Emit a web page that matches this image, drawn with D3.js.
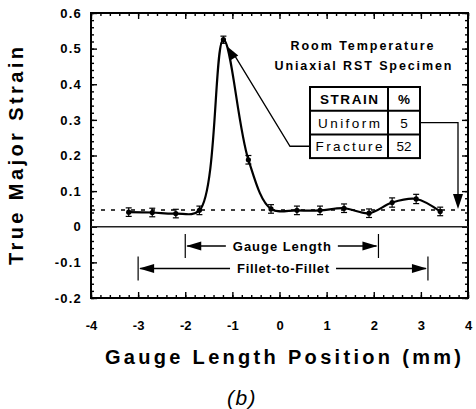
<!DOCTYPE html>
<html>
<head>
<meta charset="utf-8">
<script src="https://cdn.jsdelivr.net/npm/d3@7"></script>
<style>
  body { margin: 0; background: #fff; }
  svg { display: block; }
  text { font-family: Arial, "Liberation Sans", sans-serif; fill: #000; }
</style>
</head>
<body>
<svg width="476" height="409"></svg>
<script>
const positions = [-3.2, -2.7, -2.2, -1.7, -1.19, -0.66, -0.18, 0.37, 0.86, 1.37, 1.9, 2.39, 2.9, 3.41];
const strains   = [0.041, 0.040, 0.037, 0.046, 0.525, 0.188, 0.050, 0.046, 0.046, 0.052, 0.038, 0.068, 0.078, 0.043];
const errors    = [0.012, 0.012, 0.012, 0.012, 0.010, 0.012, 0.012, 0.012, 0.012, 0.012, 0.012, 0.013, 0.013, 0.012];

const xTicks = [-4, -3, -2, -1, 0, 1, 2, 3, 4];
const yTicks = [-0.2, -0.1, 0, 0.1, 0.2, 0.3, 0.4, 0.5, 0.6];

const uniformStrain = 0.047;          // dashed reference line
const gaugeSpan  = [-2, 2.1];         // mm
const filletSpan = [-3, 3.15];        // mm
const tableRows = [["STRAIN", "%"], ["Uniform", "5"], ["Fracture", "52"]];

var svg = d3.select("svg");
var width = +svg.attr("width");
var height = +svg.attr("height");
var margin = {top: 13, right: 8, bottom: 111, left: 91};
var iw = width - margin.left - margin.right;
var ih = height - margin.top - margin.bottom;

var x = d3.scaleLinear().domain([-4, 4]).range([margin.left, margin.left + iw]);
var y = d3.scaleLinear().domain([-0.2, 0.6]).range([margin.top + ih, margin.top]);

var fmtY = d => d === 0 ? "0" : (d < 0 ? "-" : "") + Math.abs(d).toFixed(1);
var fmtX = d => (d < 0 ? "-" : "") + Math.abs(d);

var minorX = d3.range(-4, 4.001, 0.2);
var minorY = d3.range(-0.2, 0.6001, 0.02);

function tickStyle(sel) {
  sel.select(".domain").remove();
  sel.selectAll(".tick line").attr("stroke", "#000").attr("stroke-width", 1.4);
}

// minor ticks on all four sides (inward)
svg.append("g").attr("transform", `translate(0,${margin.top + ih})`)
  .call(d3.axisBottom(x).tickValues(minorX).tickSize(-3).tickFormat("")).call(tickStyle);
svg.append("g").attr("transform", `translate(0,${margin.top})`)
  .call(d3.axisTop(x).tickValues(minorX).tickSize(-3).tickFormat("")).call(tickStyle);
svg.append("g").attr("transform", `translate(${margin.left},0)`)
  .call(d3.axisLeft(y).tickValues(minorY).tickSize(-3).tickFormat("")).call(tickStyle);
svg.append("g").attr("transform", `translate(${margin.left + iw},0)`)
  .call(d3.axisRight(y).tickValues(minorY).tickSize(-3).tickFormat("")).call(tickStyle);

// major ticks
var xAxis = svg.append("g").attr("transform", `translate(0,${margin.top + ih})`)
  .call(d3.axisBottom(x).tickValues(xTicks).tickSize(-6).tickPadding(23).tickFormat(fmtX));
xAxis.call(tickStyle);
xAxis.selectAll("text").attr("font-size", 13).attr("font-weight", "bold")
  .attr("font-family", "Arial, 'Liberation Sans', sans-serif");

var yAxis = svg.append("g").attr("transform", `translate(${margin.left},0)`)
  .call(d3.axisLeft(y).tickValues(yTicks).tickSize(-6).tickPadding(9).tickFormat(fmtY));
yAxis.call(tickStyle);
yAxis.selectAll("text").attr("font-size", 13).attr("font-weight", "bold")
  .attr("letter-spacing", 1.2)
  .attr("font-family", "Arial, 'Liberation Sans', sans-serif");

svg.append("g").attr("transform", `translate(0,${margin.top})`)
  .call(d3.axisTop(x).tickValues(xTicks).tickSize(-6).tickFormat("")).call(tickStyle);
svg.append("g").attr("transform", `translate(${margin.left + iw},0)`)
  .call(d3.axisRight(y).tickValues(yTicks).tickSize(-6).tickFormat("")).call(tickStyle);

// frame
svg.append("rect")
  .attr("x", margin.left).attr("y", margin.top)
  .attr("width", iw).attr("height", ih)
  .attr("fill", "none").attr("stroke", "#000").attr("stroke-width", 2);

// zero line and uniform strain dashed line
svg.append("line")
  .attr("x1", x(-4)).attr("x2", x(4)).attr("y1", y(0)).attr("y2", y(0))
  .attr("stroke", "#222").attr("stroke-width", 1.4);
svg.append("line")
  .attr("x1", x(-4)).attr("x2", x(4)).attr("y1", y(uniformStrain)).attr("y2", y(uniformStrain))
  .attr("stroke", "#000").attr("stroke-width", 1.3).attr("stroke-dasharray", "4,6");

// data
var pts = positions.map((p, i) => ({x: p, y: strains[i], e: errors[i]}));

var line = d3.line().x(d => x(d.x)).y(d => y(d.y)).curve(d3.curveCatmullRom.alpha(0.5));
svg.append("path").datum(pts)
  .attr("d", line).attr("fill", "none").attr("stroke", "#000").attr("stroke-width", 2.2);

var bars = svg.append("g").selectAll("g").data(pts).enter().append("g");
bars.append("line")
  .attr("x1", d => x(d.x)).attr("x2", d => x(d.x))
  .attr("y1", d => y(d.y - d.e)).attr("y2", d => y(d.y + d.e))
  .attr("stroke", "#000").attr("stroke-width", 1.2);
bars.append("line")
  .attr("x1", d => x(d.x) - 3).attr("x2", d => x(d.x) + 3)
  .attr("y1", d => y(d.y - d.e)).attr("y2", d => y(d.y - d.e))
  .attr("stroke", "#000").attr("stroke-width", 1.2);
bars.append("line")
  .attr("x1", d => x(d.x) - 3).attr("x2", d => x(d.x) + 3)
  .attr("y1", d => y(d.y + d.e)).attr("y2", d => y(d.y + d.e))
  .attr("stroke", "#000").attr("stroke-width", 1.2);
bars.append("circle")
  .attr("cx", d => x(d.x)).attr("cy", d => y(d.y)).attr("r", 2.6)
  .attr("fill", "#000");

// arrow head helper: tip point and unit direction pointing toward the tip
function head(tx, ty, dx, dy, len, w) {
  var n = Math.hypot(dx, dy); dx /= n; dy /= n;
  var bx = tx - dx * len, by = ty - dy * len;
  var px = -dy * w / 2, py = dx * w / 2;
  svg.append("path")
    .attr("d", `M${tx},${ty}L${bx + px},${by + py}L${bx - px},${by - py}Z`)
    .attr("fill", "#000");
}

function span(range, yv, label, gap, len) {
  var yy = y(yv);
  var x0 = x(range[0]), x1 = x(range[1]), xm = (x0 + x1) / 2;
  var g = svg.append("g");
  [x0, x1].forEach(v => g.append("line").attr("x1", v).attr("x2", v)
    .attr("y1", yy - 12).attr("y2", yy + 12).attr("stroke", "#000").attr("stroke-width", 1.2));
  g.append("line").attr("x1", x0 + 2).attr("x2", xm - gap).attr("y1", yy).attr("y2", yy)
    .attr("stroke", "#000").attr("stroke-width", 1.6);
  g.append("line").attr("x1", xm + gap).attr("x2", x1 - 2).attr("y1", yy).attr("y2", yy)
    .attr("stroke", "#000").attr("stroke-width", 1.6);
  head(x0 + 1, yy, -1, 0, 15, 9);
  head(x1 - 1, yy, 1, 0, 15, 9);
  g.append("text").attr("x", xm).attr("y", yy + 4.8)
    .attr("text-anchor", "middle").attr("font-size", 13).attr("font-weight", "bold")
    .attr("textLength", len).attr("lengthAdjust", "spacing").text(label);
}
span(gaugeSpan, -0.054, "Gauge Length", 56, 98);
span(filletSpan, -0.117, "Fillet-to-Fillet", 53, 92);

// specimen caption
svg.append("text").attr("x", 362).attr("y", 49.5).attr("text-anchor", "middle")
  .attr("font-size", 12.5).attr("font-weight", "bold")
  .attr("textLength", 143).attr("lengthAdjust", "spacing")
  .text("Room Temperature");
svg.append("text").attr("x", 363).attr("y", 69.5).attr("text-anchor", "middle")
  .attr("font-size", 12.5).attr("font-weight", "bold")
  .attr("textLength", 177).attr("lengthAdjust", "spacing")
  .text("Uniaxial RST Specimen");

// strain table
var tx0 = 310, tx1 = 388, tx2 = 420, ty0 = 87, rh = 23.7;
var colLen = [[58, 9], [62, 7], [67, 16]];
var tbl = svg.append("g");
tbl.append("rect").attr("x", tx0).attr("y", ty0).attr("width", tx2 - tx0).attr("height", rh * 3)
  .attr("fill", "#fff").attr("stroke", "#000").attr("stroke-width", 2);
tbl.append("line").attr("x1", tx1).attr("x2", tx1).attr("y1", ty0).attr("y2", ty0 + rh * 3)
  .attr("stroke", "#000").attr("stroke-width", 2);
[1, 2].forEach(i => tbl.append("line").attr("x1", tx0).attr("x2", tx2)
  .attr("y1", ty0 + rh * i).attr("y2", ty0 + rh * i).attr("stroke", "#000").attr("stroke-width", 2));
tableRows.forEach((r, i) => {
  var yy = ty0 + rh * i + rh / 2 + 5;
  tbl.append("text").attr("x", (tx0 + tx1) / 2).attr("y", yy).attr("text-anchor", "middle")
    .attr("font-size", 13.5).attr("font-weight", i === 0 ? "bold" : "normal")
    .attr("textLength", colLen[i][0]).attr("lengthAdjust", "spacing").text(r[0]);
  tbl.append("text").attr("x", (tx1 + tx2) / 2).attr("y", yy).attr("text-anchor", "middle")
    .attr("font-size", 13.5).attr("font-weight", i === 0 ? "bold" : "normal").text(r[1]);
});

// leader from Fracture row to the peak
svg.append("path")
  .attr("d", `M${tx0},${ty0 + rh * 2.5}L290,${ty0 + rh * 2.5}L${x(-1.08) + 4},${y(0.49)}`)
  .attr("fill", "none").attr("stroke", "#000").attr("stroke-width", 1.3);
head(x(-1.08) - 1, y(0.505), x(-1.08) - 290, y(0.505) - (ty0 + rh * 2.5), 13, 9);

// leader from Uniform row down to the dashed line
svg.append("path")
  .attr("d", `M${tx2},${ty0 + rh * 1.5}L458,${ty0 + rh * 1.5}L458,${y(uniformStrain) - 10}`)
  .attr("fill", "none").attr("stroke", "#000").attr("stroke-width", 1.3);
head(458, y(uniformStrain) - 1, 0, 1, 15, 10);

// axis titles
svg.append("text")
  .attr("transform", "translate(23,156) rotate(-90)")
  .attr("text-anchor", "middle")
  .attr("font-size", 20).attr("font-weight", "bold")
  .attr("textLength", 218).attr("lengthAdjust", "spacing")
  .text("True Major Strain");
svg.append("text")
  .attr("x", 283).attr("y", 364).attr("text-anchor", "middle")
  .attr("font-size", 20).attr("font-weight", "bold")
  .attr("textLength", 356).attr("lengthAdjust", "spacing")
  .text("Gauge Length Position (mm)");
svg.append("text")
  .attr("x", 242).attr("y", 405).attr("text-anchor", "middle")
  .attr("font-size", 21).attr("font-style", "italic").attr("letter-spacing", 1.5)
  .attr("font-family", "'Liberation Serif', 'DejaVu Serif', serif")
  .text("(b)");
</script>
</body>
</html>
